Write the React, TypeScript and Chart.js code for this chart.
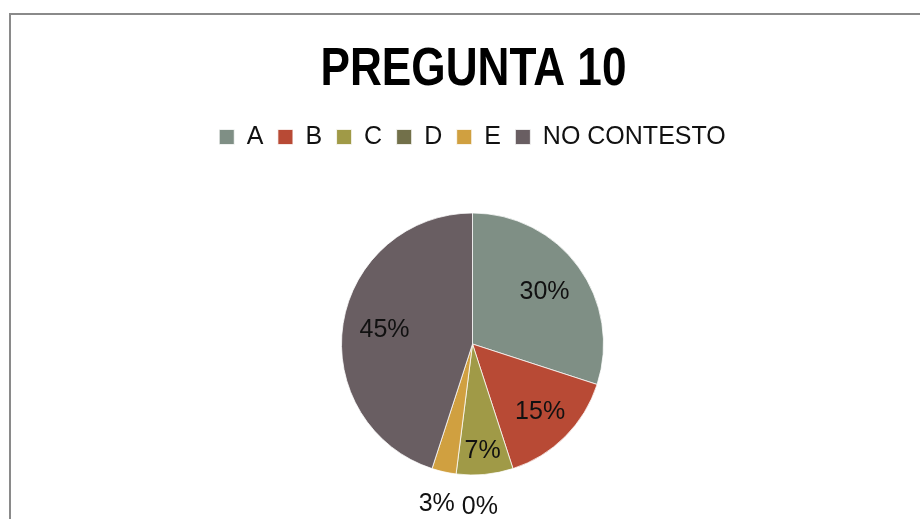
import React, { useEffect, useRef } from "react";
import { Chart, registerables } from "chart.js";

Chart.register(...registerables);

const categories = ["A", "B", "C", "D", "E", "NO CONTESTO"];
const values = [30, 15, 7, 0, 3, 45];
const colors = ["#7F8F85", "#B84A35", "#A09A47", "#72704A", "#D0A040", "#695E62"];
const titleText = "PREGUNTA 10";

const frame = {
  id: "frame",
  beforeDraw(chart: any) {
    const ctx = chart.ctx;
    ctx.save();
    ctx.fillStyle = "#ffffff";
    ctx.fillRect(0, 0, chart.width, chart.height);
    ctx.strokeStyle = "#8a8a8a";
    ctx.lineWidth = 2;
    ctx.strokeRect(10, 14, chart.width + 40, chart.height + 40);
    // condensed bold title
    ctx.font = "bold 53px 'Liberation Sans', Arial, sans-serif";
    ctx.fillStyle = "#000000";
    ctx.textAlign = "center";
    ctx.textBaseline = "middle";
    ctx.fillText(titleText, 473.5, 70, 306);
    ctx.restore();
  },
};

const pctLabels = {
  id: "pctLabels",
  afterDatasetsDraw(chart: any) {
    const ctx = chart.ctx;
    const meta = chart.getDatasetMeta(0);
    const data = chart.data.datasets[0].data as number[];
    const total = data.reduce((a: number, b: number) => a + b, 0);
    ctx.save();
    ctx.font = "25px 'Liberation Sans', Arial, sans-serif";
    ctx.fillStyle = "#111111";
    ctx.textAlign = "center";
    ctx.textBaseline = "middle";
    const outside: any[] = [];
    meta.data.forEach((arc: any, i: number) => {
      const p = arc.getProps(["x", "y", "startAngle", "endAngle", "outerRadius"], true);
      const pct = (data[i] / total) * 100;
      const mid = (p.startAngle + p.endAngle) / 2;
      const text = Math.round(pct) + "%";
      if (pct < 5) {
        const d = p.outerRadius + 33;
        outside.push({ i, text, x: p.x + Math.cos(mid) * d, y: p.y + Math.sin(mid) * d, w: ctx.measureText(text).width });
      } else {
        const f = pct >= 25 ? 0.68 : pct >= 10 ? 0.73 : 0.82;
        const d = p.outerRadius * f;
        ctx.fillText(text, p.x + Math.cos(mid) * d, p.y + Math.sin(mid) * d);
      }
    });
    outside.sort((a, b) => b.i - a.i);
    const placed: any[] = [];
    outside.forEach((l) => {
      placed.forEach((q) => {
        if (Math.abs(l.x - q.x) < (l.w + q.w) / 2 + 7 && Math.abs(l.y - q.y) < 24) {
          l.x = q.x + (l.w + q.w) / 2 + 7;
        }
      });
      placed.push(l);
      ctx.fillText(l.text, l.x, l.y);
    });
    ctx.restore();
  },
};

export default function App() {
  const ref = useRef<HTMLCanvasElement | null>(null);
  useEffect(() => {
    document.body.style.margin = "0";
    if (!ref.current) return;
    const chart = new Chart(ref.current, {
      type: "pie",
      data: {
        labels: categories,
        datasets: [
          {
            data: values,
            backgroundColor: colors,
            borderColor: "#ffffff",
            borderWidth: 0.75,
            radius: 131,
          },
        ],
      },
      options: {
        responsive: false,
        animation: false,
        layout: { padding: { left: 25, right: 0, top: 110, bottom: 0 } },
        plugins: {
          tooltip: { enabled: false },
          title: { display: false },
          subtitle: {
            display: true,
            text: "",
            position: "top",
            weight: 500,
            font: { size: 1 },
            padding: { top: 8.3, bottom: 0 },
          },
          legend: {
            display: true,
            position: "top",
            labels: {
              boxWidth: 15,
              boxHeight: 15,
              padding: 14.5,
              color: "#111111",
              font: { family: "'Liberation Sans', Arial, sans-serif", size: 25 },
            },
          },
        },
      },
      plugins: [frame, pctLabels],
    });
    return () => chart.destroy();
  }, []);
  return <canvas ref={ref} width={920} height={519} style={{ display: "block" }} />;
}
